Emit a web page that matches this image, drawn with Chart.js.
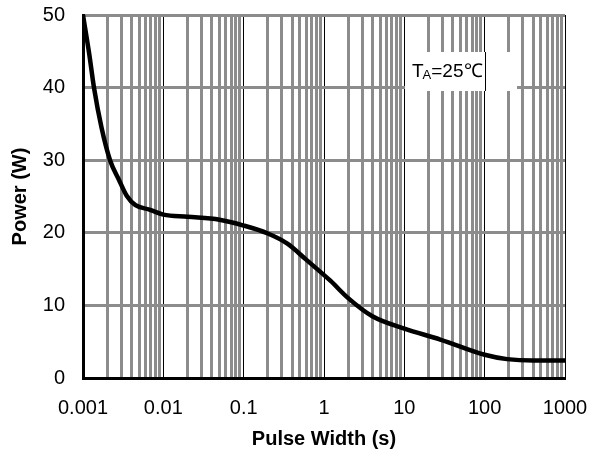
<!DOCTYPE html>
<html>
<head>
<meta charset="utf-8">
<script src="https://cdn.jsdelivr.net/npm/chart.js@4/dist/chart.umd.min.js"></script>
<style>
  html, body { margin: 0; padding: 0; background: #fff; }
  #wrap { width: 596px; height: 452px; }
</style>
</head>
<body>
<div id="wrap"><canvas id="powerChart"></canvas></div>
<script>
// pulse width (s) vs power (W)
const pulseWidth = [0.001, 0.0012, 0.00137, 0.0017, 0.00217, 0.0028, 0.0035, 0.0045, 0.0067, 0.01, 0.02, 0.05, 0.1, 0.2, 0.35, 0.6, 1.2, 2, 4, 10, 28, 100, 190, 400, 1000];
const powerW     = [50,    44.5,   40,      34.5,   30,      27.3,   25.1,   23.8,   23.2,   22.5, 22.2, 21.8, 21.0, 19.9, 18.5, 16.3, 13.4, 11.0, 8.5, 6.8, 5.3, 3.2, 2.6, 2.4, 2.4];

const decades = [0.001, 0.01, 0.1, 1, 10, 100, 1000];
const yTicks = [0, 10, 20, 30, 40, 50];
const noteText = {main: 'T', sub: 'A', rest: '=25\u2103'};

// every 1..9 multiple inside each decade -> vertical grid lines
let xTickValues = [];
decades.forEach((d, i) => {
    if (i === decades.length - 1) { xTickValues.push(d); return; }
    for (let m = 1; m <= 9; m++) xTickValues.push(+(d * m).toPrecision(3));
});

const fontFam = '"Liberation Sans", Arial, sans-serif';

function isDecade(v) {
    const l = Math.log10(v);
    return Math.abs(l - Math.round(l)) < 1e-6;
}

const notePlugin = {
    id: 'noteBox',
    beforeDatasetsDraw(chart) {
        const ctx = chart.ctx;
        const xs = chart.scales.x;
        ctx.save();
        ctx.fillStyle = '#fff';
        ctx.fillRect(405, 52, 112, 39);
        // decade line at 100 stays visible through the box
        const x100 = Math.round(xs.getPixelForValue(100)) + 0.5;
        ctx.strokeStyle = '#000';
        ctx.lineWidth = 1;
        ctx.beginPath();
        ctx.moveTo(x100, 52);
        ctx.lineTo(x100, 91);
        ctx.stroke();
        ctx.fillStyle = '#000';
        ctx.textBaseline = 'alphabetic';
        ctx.font = '19px ' + fontFam;
        let x = 412;
        ctx.fillText(noteText.main, x, 77);
        x += ctx.measureText(noteText.main).width - 1;
        ctx.font = '13px ' + fontFam;
        ctx.fillText(noteText.sub, x, 79);
        x += ctx.measureText(noteText.sub).width;
        ctx.font = '19px ' + fontFam;
        ctx.fillText(noteText.rest, x, 77);
        ctx.restore();
    }
};

new Chart(document.getElementById('powerChart').getContext('2d'), {
    type: 'line',
    data: {
        datasets: [{
            data: pulseWidth.map((x, i) => ({x: x, y: powerW[i]})),
            borderColor: '#000',
            borderWidth: 4.5,
            pointRadius: 0,
            fill: false,
            cubicInterpolationMode: 'monotone'
        }]
    },
    options: {
        responsive: true,
        maintainAspectRatio: false,
        animation: false,
        layout: {padding: {top: 15, right: 31, left: 0, bottom: 0}},
        plugins: {legend: {display: false}, tooltip: {enabled: false}},
        scales: {
            x: {
                type: 'logarithmic',
                min: 0.001,
                max: 1000,
                afterBuildTicks: scale => { scale.ticks = xTickValues.map(v => ({value: v})); },
                afterFit: scale => {
                    scale.height = 74;
                    scale.paddingLeft = 0;
                    scale.paddingRight = 0;
                },
                grid: {
                    drawTicks: false,
                    color: c => (c.tick && isDecade(c.tick.value)) ? '#000' : '#8c8c8c',
                    lineWidth: c => (c.tick && isDecade(c.tick.value)) ? 1 : 3
                },
                border: {color: '#000', width: 3},
                ticks: {
                    autoSkip: false,
                    maxRotation: 0,
                    padding: 18,
                    color: '#000',
                    font: {family: fontFam, size: 20},
                    callback: v => isDecade(v) ? String(+v.toPrecision(1)) : ''
                },
                title: {
                    display: true,
                    text: 'Pulse Width (s)',
                    color: '#000',
                    font: {family: fontFam, size: 20, weight: 'bold'},
                    padding: {top: 0, bottom: 1}
                }
            },
            y: {
                min: 0,
                max: 50,
                afterBuildTicks: scale => { scale.ticks = yTicks.map(v => ({value: v})); },
                afterFit: scale => {
                    scale.width = 83;
                    scale.paddingTop = 0;
                    scale.paddingBottom = 0;
                },
                grid: {drawTicks: false, color: '#8c8c8c', lineWidth: 3},
                border: {color: '#000', width: 3},
                ticks: {
                    padding: 18,
                    color: '#000',
                    font: {family: fontFam, size: 20}
                },
                title: {
                    display: true,
                    text: 'Power (W)',
                    color: '#000',
                    font: {family: fontFam, size: 20, weight: 'bold'},
                    padding: {top: 8, bottom: 0}
                }
            }
        }
    },
    plugins: [notePlugin]
});
</script>
</body>
</html>
